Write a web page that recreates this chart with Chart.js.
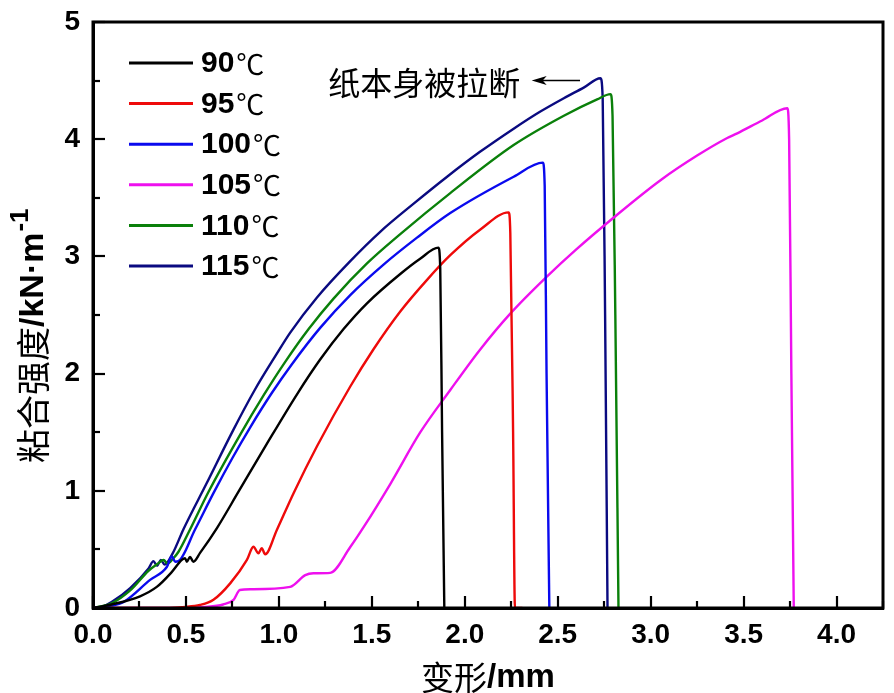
<!DOCTYPE html>
<html><head><meta charset="utf-8">
<script src="https://cdn.jsdelivr.net/npm/chart.js@4/dist/chart.umd.min.js"></script>
<style>html,body{margin:0;padding:0;background:#fff;}#wrap{width:894px;height:693px;}</style>
</head><body><div id="wrap"><canvas id="c" width="894" height="693"></canvas></div>
<script>
// ---- data (deformation mm, bond strength kN/m) ----
const seriesLabels = ['90', '95', '100', '105', '110', '115'];
const seriesColors = ['#000000', '#ee0a0a', '#0a0aee', '#ee10ee', '#0a800a', '#0a0a80'];
const s90 = [[0,0],[0.1,0.03],[0.253,0.10],[0.343,0.18],[0.42,0.30],[0.478,0.41],[0.495,0.425],[0.505,0.395],[0.522,0.435],[0.54,0.395],[0.576,0.47],[0.666,0.68],[0.782,0.99],[0.935,1.40],[1.10,1.83],[1.222,2.12],[1.348,2.38],[1.474,2.60],[1.653,2.85],[1.76,2.98],[1.858,3.075],[1.868,2.9],[1.878,1.5],[1.89,0]];
const s95 = [[0,0],[0.3,0.0],[0.5,0.01],[0.576,0.026],[0.648,0.07],[0.738,0.21],[0.828,0.41],[0.863,0.523],[0.89,0.467],[0.908,0.51],[0.926,0.458],[0.989,0.666],[1.079,0.98],[1.205,1.38],[1.384,1.89],[1.51,2.21],[1.653,2.53],[1.797,2.80],[1.922,3.01],[2.084,3.23],[2.236,3.376],[2.245,3.2],[2.26,1.5],[2.27,0],[2.31,0]];
const s100 = [[0,0],[0.1,0.02],[0.163,0.05],[0.307,0.24],[0.397,0.35],[0.424,0.44],[0.442,0.395],[0.46,0.40],[0.549,0.67],[0.648,0.98],[0.75,1.28],[0.845,1.54],[0.96,1.83],[1.07,2.08],[1.222,2.39],[1.384,2.67],[1.563,2.93],[1.743,3.16],[1.922,3.37],[2.263,3.68],[2.42,3.80],[2.43,3.6],[2.44,2.0],[2.455,0]];
const s105 = [[0,0],[0.4,0],[0.6,0.01],[0.70,0.03],[0.756,0.07],[0.79,0.154],[0.85,0.16],[1.061,0.18],[1.142,0.28],[1.186,0.296],[1.276,0.30],[1.384,0.52],[1.46,0.70],[1.60,1.06],[1.761,1.50],[1.922,1.86],[2.08,2.20],[2.246,2.514],[2.443,2.83],[2.60,3.06],[2.80,3.33],[3.053,3.65],[3.25,3.86],[3.412,4.01],[3.466,4.05],[3.60,4.16],[3.735,4.264],[3.745,4.0],[3.757,2.0],[3.77,0]];
const s110 = [[0,0],[0.1,0.04],[0.2,0.15],[0.3,0.32],[0.35,0.38],[0.38,0.41],[0.40,0.38],[0.43,0.42],[0.46,0.48],[0.522,0.67],[0.621,0.99],[0.792,1.48],[0.92,1.82],[1.034,2.10],[1.16,2.38],[1.294,2.64],[1.474,2.94],[1.653,3.19],[1.922,3.54],[2.263,3.95],[2.533,4.20],[2.712,4.34],[2.784,4.385],[2.795,4.2],[2.81,2.5],[2.827,0]];
const s115 = [[0,0],[0.05,0.01],[0.1,0.05],[0.2,0.17],[0.3,0.34],[0.325,0.40],[0.345,0.36],[0.365,0.41],[0.385,0.37],[0.43,0.47],[0.486,0.67],[0.61,1.06],[0.755,1.52],[0.87,1.86],[0.989,2.17],[1.061,2.35],[1.205,2.65],[1.384,2.96],[1.545,3.21],[1.725,3.45],[1.905,3.68],[2.08,3.89],[2.263,4.09],[2.40,4.23],[2.533,4.35],[2.64,4.44],[2.73,4.52],[2.742,4.35],[2.755,2.5],[2.768,0]];
const seriesData = [s90, s95, s100, s105, s110, s115];
const xTicks = [0, 0.5, 1.0, 1.5, 2.0, 2.5, 3.0, 3.5, 4.0];
const yTicks = [0, 1, 2, 3, 4, 5];
const xRange = [0, 4.25];
const yRange = [0, 5];
const annotationText = '纸本身被拉断';
const annotationPos = [1.265, 4.48];
const arrowFrom = [2.62, 4.5];
const arrowTo = [2.36, 4.5];
const xTitle = ['变形', '/mm'];
const yTitle = ['粘合强度', '/kN·m', '-1'];

const datasets = seriesData.map((d, i) => ({
  label: seriesLabels[i] + '℃',
  data: d.map(p => ({x: p[0], y: p[1]})),
  borderColor: seriesColors[i],
  backgroundColor: seriesColors[i],
  borderWidth: 2.4,
  pointRadius: 0,
  showLine: true,
  fill: false,
  cubicInterpolationMode: 'monotone'
}));

const SANS = "'Liberation Sans', Arial, sans-serif";
const CJK = "'Noto Sans CJK SC', sans-serif";

const decor = {
  id: 'decor',
  afterDraw(chart) {
    const ctx = chart.ctx, a = chart.chartArea;
    const xs = chart.scales.x, ys = chart.scales.y;
    ctx.save();
    ctx.strokeStyle = '#000';
    ctx.lineWidth = 3;
    ctx.strokeRect(a.left, a.top, a.right - a.left, a.bottom - a.top);
    ctx.lineWidth = 2.2;
    for (let v = 0; v <= xRange[1] + 1e-9; v += 0.25) {
      const px = Math.round(xs.getPixelForValue(v));
      const major = Math.abs(v * 2 - Math.round(v * 2)) < 1e-6;
      const L = major ? 12 : 7;
      ctx.beginPath(); ctx.moveTo(px, a.bottom); ctx.lineTo(px, a.bottom - L); ctx.stroke();
    }
    for (let v = 0; v <= yRange[1] + 1e-9; v += 0.5) {
      const py = Math.round(ys.getPixelForValue(v));
      const major = Math.abs(v - Math.round(v)) < 1e-6;
      const L = major ? 12 : 7;
      ctx.beginPath(); ctx.moveTo(a.left, py); ctx.lineTo(a.left + L, py); ctx.stroke();
    }
    chart.data.datasets.forEach((ds, i) => {
      const y = a.top + 41 + i * 40.6;
      ctx.strokeStyle = ds.borderColor; ctx.lineWidth = 3;
      ctx.beginPath(); ctx.moveTo(a.left + 36, y); ctx.lineTo(a.left + 100, y); ctx.stroke();
      ctx.fillStyle = '#000'; ctx.textBaseline = 'middle'; ctx.textAlign = 'left';
      ctx.font = 'bold 30px ' + SANS;
      const num = seriesLabels[i];
      const x0 = a.left + 108;
      ctx.fillText(num, x0, y + 1);
      const w = ctx.measureText(num).width;
      ctx.font = '28px ' + CJK;
      ctx.fillText('℃', x0 + w + 2, y + 1);
    });
    ctx.fillStyle = '#000'; ctx.font = '32px ' + CJK; ctx.textBaseline = 'middle'; ctx.textAlign = 'left';
    ctx.fillText(annotationText, xs.getPixelForValue(annotationPos[0]), ys.getPixelForValue(annotationPos[1]));
    const ax1 = xs.getPixelForValue(arrowFrom[0]), ay = ys.getPixelForValue(arrowFrom[1]);
    const ax2 = xs.getPixelForValue(arrowTo[0]);
    ctx.strokeStyle = '#000'; ctx.lineWidth = 1.5;
    ctx.beginPath(); ctx.moveTo(ax1, ay); ctx.lineTo(ax2 + 8, ay); ctx.stroke();
    ctx.beginPath(); ctx.moveTo(ax2, ay); ctx.lineTo(ax2 + 15, ay - 4.5); ctx.lineTo(ax2 + 11, ay); ctx.lineTo(ax2 + 15, ay + 4.5); ctx.closePath(); ctx.fill();
    const cx = (a.left + a.right) / 2, ty = 677;
    ctx.font = '33px ' + CJK; const w1 = ctx.measureText(xTitle[0]).width;
    ctx.font = 'bold 33px ' + SANS; const w2 = ctx.measureText(xTitle[1]).width;
    let sx = cx - (w1 + w2) / 2;
    ctx.font = '33px ' + CJK; ctx.fillText(xTitle[0], sx, ty);
    ctx.font = 'bold 33px ' + SANS; ctx.fillText(xTitle[1], sx + w1, ty + 1);
    ctx.save();
    ctx.translate(33, 463); ctx.rotate(-Math.PI / 2);
    ctx.textBaseline = 'middle'; ctx.textAlign = 'left';
    ctx.font = '34px ' + CJK; ctx.fillText(yTitle[0], 0, 0);
    let off = ctx.measureText(yTitle[0]).width;
    ctx.font = 'bold 34px ' + SANS; ctx.fillText(yTitle[1], off, 1);
    off += ctx.measureText(yTitle[1]).width;
    ctx.font = 'bold 26px ' + SANS; ctx.fillText(yTitle[2], off + 1, -12);
    ctx.restore();
    ctx.restore();
  }
};

new Chart(document.getElementById('c'), {
  type: 'scatter',
  data: { datasets },
  options: {
    responsive: false, animation: false, devicePixelRatio: 1,
    layout: { padding: { left: 0, right: 11, top: 22, bottom: 0 } },
    plugins: { legend: { display: false }, tooltip: { enabled: false } },
    scales: {
      x: {
        type: 'linear', min: xRange[0], max: xRange[1],
        afterBuildTicks: s => { s.ticks = xTicks.map(v => ({ value: v })); },
        afterFit: s => { s.height = 693 - 608; s.paddingLeft = 0; s.paddingRight = 0; },
        grid: { display: false, drawTicks: false },
        border: { display: true, width: 3, color: '#000' },
        ticks: { color: '#000', padding: 10, maxRotation: 0, autoSkip: false, font: { family: SANS, size: 28, weight: 'bold' }, callback: v => Number(v).toFixed(1) }
      },
      y: {
        type: 'linear', min: yRange[0], max: yRange[1],
        afterBuildTicks: s => { s.ticks = yTicks.map(v => ({ value: v })); },
        afterFit: s => { s.width = 93; s.paddingTop = 0; s.paddingBottom = 0; },
        grid: { display: false, drawTicks: false },
        border: { display: true, width: 3, color: '#000' },
        ticks: { color: '#000', padding: 13, autoSkip: false, font: { family: SANS, size: 28, weight: 'bold' }, callback: v => String(v) }
      }
    }
  },
  plugins: [decor]
});
</script></body></html>
